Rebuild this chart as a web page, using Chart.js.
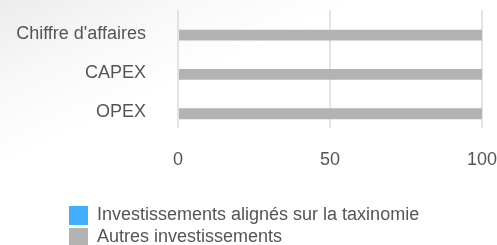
<!DOCTYPE html>
<html>
<head>
<meta charset="utf-8">
<script src="https://cdn.jsdelivr.net/npm/chart.js@4/dist/chart.umd.min.js"></script>
<style>
  html, body { margin: 0; padding: 0; overflow: hidden; }
  body {
    width: 497px; height: 245px;
    background: linear-gradient(155deg, #ececec 0%, #f8f8f8 18%, #ffffff 35%);
  }
  #wrap { width: 497px; height: 257px; position: relative; }
</style>
</head>
<body>
<div id="wrap"><canvas id="chart"></canvas></div>
<script>
const categories = ['Chiffre d\'affaires', 'CAPEX', 'OPEX'];
const alignedValues = [0, 0, 0];
const otherValues = [100, 100, 100];
const xTicks = [0, 50, 100];
const seriesNames = ['Investissements alignés sur la taxinomie', 'Autres investissements'];

const TEXT = '#555555';
const FONT = { family: 'Liberation Sans, Arial, sans-serif', size: 18 };

// shift the legend so both rows start at the same left edge
const legendShift = {
  id: 'legendShift',
  afterLayout(chart) {
    if (chart.legend) chart.legend.left = 66;
  }
};

new Chart(document.getElementById('chart'), {
  type: 'bar',
  data: {
    labels: categories,
    datasets: [
      { label: seriesNames[0], data: alignedValues, backgroundColor: '#40adff' },
      { label: seriesNames[1], data: otherValues, backgroundColor: '#b3b3b3' }
    ]
  },
  options: {
    indexAxis: 'y',
    responsive: true,
    maintainAspectRatio: false,
    animation: false,
    layout: { padding: { top: 10, left: 12 } },
    datasets: { bar: { categoryPercentage: 0.55, barPercentage: 1 } },
    scales: {
      x: {
        min: 0, max: 100,
        afterBuildTicks: axis => { axis.ticks = xTicks.map(v => ({ value: v })); },
        afterFit: axis => {
          axis.height = 75;
          axis.paddingLeft = 0;
          axis.paddingRight = 15;
        },
        grid: { color: '#e3e3e3', lineWidth: 2, drawTicks: false },
        border: { display: false },
        ticks: { color: TEXT, font: FONT, padding: 21 }
      },
      y: {
        afterFit: axis => {
          axis.width = 166;
          axis.paddingTop = 0;
          axis.paddingBottom = 0;
        },
        grid: { display: false, drawTicks: false },
        border: { display: false },
        ticks: { color: TEXT, font: FONT, padding: 32, labelOffset: 4 }
      }
    },
    plugins: {
      tooltip: { enabled: false },
      legend: {
        position: 'bottom',
        align: 'start',
        labels: {
          color: TEXT, font: FONT,
          boxWidth: 19, boxHeight: 19, padding: 3
        }
      }
    }
  },
  plugins: [legendShift]
});
</script>
</body>
</html>
